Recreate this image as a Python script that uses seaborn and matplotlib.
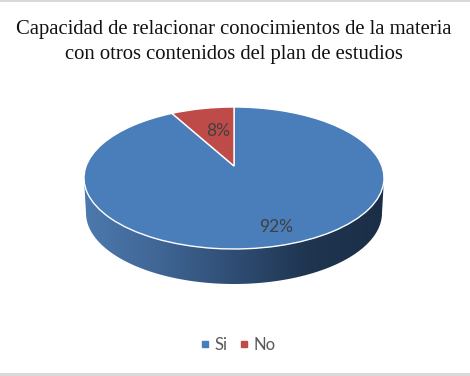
import numpy as np
import matplotlib
matplotlib.use('Agg')
import matplotlib.pyplot as plt
import seaborn as sns
from matplotlib.colors import LinearSegmentedColormap
from matplotlib.lines import Line2D
from matplotlib.patches import PathPatch, Polygon
from matplotlib.path import Path

categories = ['Si', 'No']
values = [92, 8]
title_text = 'Capacidad de relacionar conocimientos de la materia\ncon otros contenidos del plan de estudios'

colors = sns.color_palette(['#4a7ebb', '#be4b48'])
side_colors = ['#4d79ae', '#3f6695', '#2f4d73', '#1f3550', '#1b2e47']

sns.set_theme(style='white')
plt.rcParams['font.family'] = ['Lato', 'DejaVu Sans']

# pie geometry in pixels (tilted disc, apex sits above the ellipse centre)
CX, CY, RX, RY = 234, 178, 150, 71
DEPTH = 35
K = -12 / RY


def project(xy):
    """Unit pie coordinates -> tilted disc in pixel coordinates."""
    w = 1 - K * xy[:, 1]
    sx = RX * np.sqrt(1 - K ** 2)
    sy = RY * (1 - K ** 2)
    return np.column_stack([CX + sx * xy[:, 0] / w, CY - 12 - sy * xy[:, 1] / w])


fig = plt.figure(figsize=(4.7, 3.76), dpi=100, facecolor='white')
ax = fig.add_axes([0, 0, 1, 1])

# flat pie first, its wedges are then re-drawn tilted
wedges, _ = ax.pie(values, colors=colors, startangle=90, counterclock=False)
ax.set_aspect('auto')
ax.axis('off')

# side of the disc with the horizontal gradient
t = np.linspace(np.pi, 0, 200)
side = np.vstack([
    [[CX - RX, CY]],
    np.column_stack([CX + (RX - 2) * np.cos(t), CY + DEPTH + RY * np.sin(t)]),
    [[CX + RX, CY]],
])
clip = Polygon(side, closed=True, transform=ax.transData, fc='none', ec='none')
ax.add_patch(clip)
cmap = LinearSegmentedColormap.from_list('side', side_colors)
img = ax.imshow(np.linspace(0, 1, 256).reshape(1, -1), cmap=cmap, aspect='auto',
                extent=(CX - RX, CX + RX, CY + DEPTH + RY, CY), zorder=1)
img.set_clip_path(clip)
ax.set_xlim(0, 470)
ax.set_ylim(376, 0)

for w in wedges:
    p = w.get_path()
    ax.add_patch(PathPatch(Path(project(p.vertices), p.codes), fc=w.get_facecolor(),
                           ec='white', lw=1.0, zorder=2))
    w.remove()

ax.text(276, 227, f'{values[0]}%', ha='center', va='center', fontsize=12.5, color='#404040', zorder=3)
ax.text(218, 131, f'{values[1]}%', ha='center', va='center', fontsize=12.5, color='#404040', zorder=3)

ax.text(234, 42, title_text, ha='center', va='center', fontsize=14.9, color='#111111',
        family=['Liberation Serif', 'DejaVu Serif'], linespacing=1.45)

ax.axhspan(0, 2, color='#d9d9d9', lw=0)
ax.axhspan(373, 376, color='#d9d9d9', lw=0)

handles = [Line2D([], [], ls='none', marker='s', ms=4.6, color=c) for c in colors]
ax.legend(handles, categories, loc='center', bbox_to_anchor=(238 / 470, 1 - 345 / 376),
          ncol=2, frameon=False, fontsize=12, labelcolor='#595959', handlelength=0.6,
          handletextpad=0.25, columnspacing=0.7)

fig.savefig('out.png', dpi=100, facecolor='white')
